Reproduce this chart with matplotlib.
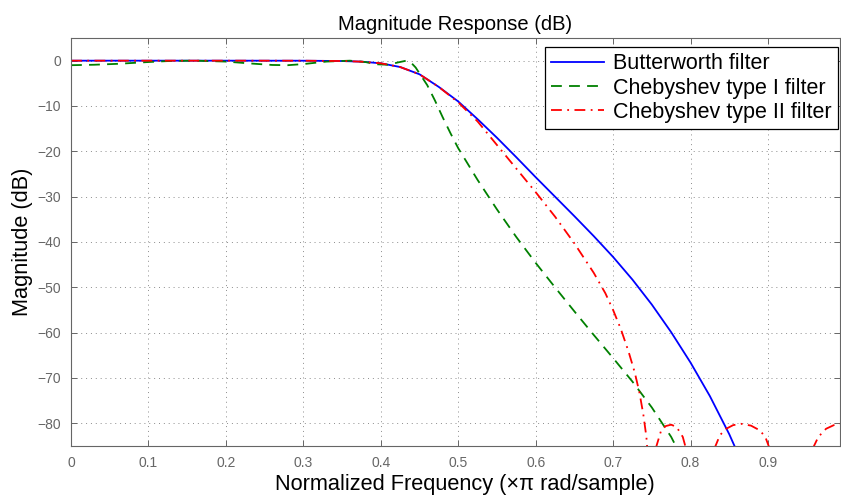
import matplotlib

matplotlib.use("Agg")
import matplotlib.pyplot as plt

plt.rcParams["font.family"] = ["Liberation Sans", "DejaVu Sans"]

# values (normalized freq, dB)
butter_f = [0.0, 0.1, 0.2, 0.3, 0.35, 0.375, 0.4, 0.425, 0.45, 0.475, 0.5,
            0.525, 0.55, 0.575, 0.6, 0.625, 0.65, 0.675, 0.7, 0.725, 0.75,
            0.775, 0.8, 0.825, 0.85, 0.875]
butter_db = [0.0, 0.0, 0.0, -0.01, -0.08, -0.22, -0.58, -1.4, -3.0, -5.8, -9.0,
             -12.9, -17.0, -21.3, -25.7, -30.0, -34.3, -38.7, -43.3, -48.3, -53.8,
             -59.9, -66.6, -74.0, -82.4, -92.0]

cheb1_f = [0.0, 0.03, 0.06, 0.1, 0.13, 0.16, 0.2, 0.23, 0.26, 0.28, 0.3, 0.33,
           0.36, 0.38, 0.395, 0.41, 0.422, 0.433, 0.44, 0.445, 0.45, 0.46,
           0.47, 0.48, 0.49, 0.5, 0.525, 0.55, 0.575, 0.6, 0.625, 0.65,
           0.675, 0.7, 0.725, 0.75, 0.775, 0.79]
cheb1_db = [-1.0, -0.9, -0.7, -0.3, -0.05, 0.0, -0.2, -0.6, -0.95, -1.0, -0.75, -0.2,
            0.0, -0.3, -0.8, -0.9, -0.4, 0.0, -0.6, -1.5, -2.8, -5.4,
            -8.8, -12.5, -16.0, -19.3, -26.3, -32.8, -38.9, -44.6, -50.0, -55.3,
            -60.5, -65.6, -70.8, -76.5, -83.0, -88.0]

cheb2_f = [0.0, 0.1, 0.2, 0.3, 0.35, 0.375, 0.4, 0.425, 0.45, 0.475, 0.5,
           0.525, 0.55, 0.575, 0.6, 0.625, 0.65, 0.675, 0.69, 0.7, 0.71, 0.72,
           0.728, 0.734, 0.739, 0.743, 0.746, 0.749, 0.756, 0.762, 0.768, 0.775,
           0.782, 0.79, 0.794, 0.81, 0.831, 0.838, 0.846, 0.855, 0.865, 0.878,
           0.89, 0.897, 0.902, 0.93, 0.958, 0.965, 0.975, 0.985, 0.995]
cheb2_db = [0.0, 0.0, 0.0, -0.01, -0.08, -0.22, -0.58, -1.4, -3.0, -5.8, -9.2,
            -13.4, -18.6, -23.8, -29.0, -34.4, -40.3, -46.8, -51.3, -55.0, -59.2, -64.2,
            -68.8, -73.2, -78.0, -83.0, -90.0, -120.0, -85.0, -81.6, -80.6, -80.3,
            -80.8, -83.0, -85.5, -120.0, -85.5, -82.6, -81.2, -80.4, -80.1, -80.5,
            -81.6, -83.2, -85.5, -120.0, -85.5, -83.0, -81.2, -80.4, -80.1]

labels = ["Butterworth filter", "Chebyshev type I filter", "Chebyshev type II filter"]

fig = plt.figure(figsize=(8.41, 4.95), dpi=100)
ax = fig.add_axes([71 / 841, 49 / 495, 769 / 841, 408 / 495])

ax.plot(butter_f, butter_db, color=(0, 0, 1), lw=1.3, label=labels[0])
ax.plot(cheb1_f, cheb1_db, color=(0, 0.5, 0), lw=1.3, dashes=(6, 4), label=labels[1])
ax.plot(cheb2_f, cheb2_db, color=(1, 0, 0), lw=1.3, dashes=(6, 3, 1, 3), label=labels[2])

ax.set_xlim(0, 0.993)
ax.set_ylim(-85, 5)
ax.set_xticks([0, 0.1, 0.2, 0.3, 0.4, 0.5, 0.6, 0.7, 0.8, 0.9])
ax.set_xticklabels(["0", "0.1", "0.2", "0.3", "0.4", "0.5", "0.6", "0.7", "0.8", "0.9"])
ax.set_yticks(range(-80, 1, 10))

ax.grid(True, color="0.55", linestyle=(0, (1, 4)), lw=0.7)
ax.tick_params(direction="in", top=True, right=True, length=4, width=0.7,
               color="0.4", labelcolor="0.4", labelsize=10, pad=7)
for s in ax.spines.values():
    s.set_color("0.4")
    s.set_linewidth(0.8)

ax.set_title("Magnitude Response (dB)", fontsize=14.5, pad=6)
ax.set_xlabel("Normalized Frequency (\u00d7\u03c0 rad/sample)", fontsize=15.7, labelpad=3)
ax.xaxis.label.set_x(0.512)
ax.set_ylabel("Magnitude (dB)", fontsize=15.7, labelpad=3)

leg = ax.legend(loc="upper right", bbox_to_anchor=(0.997, 0.978), fontsize=15.5,
                fancybox=False, framealpha=1, edgecolor="black", borderaxespad=0,
                handlelength=2.45, handletextpad=0.4, labelspacing=0.15, borderpad=0.3)
leg.get_frame().set_linewidth(0.9)

fig.savefig("out.png", dpi=100)
